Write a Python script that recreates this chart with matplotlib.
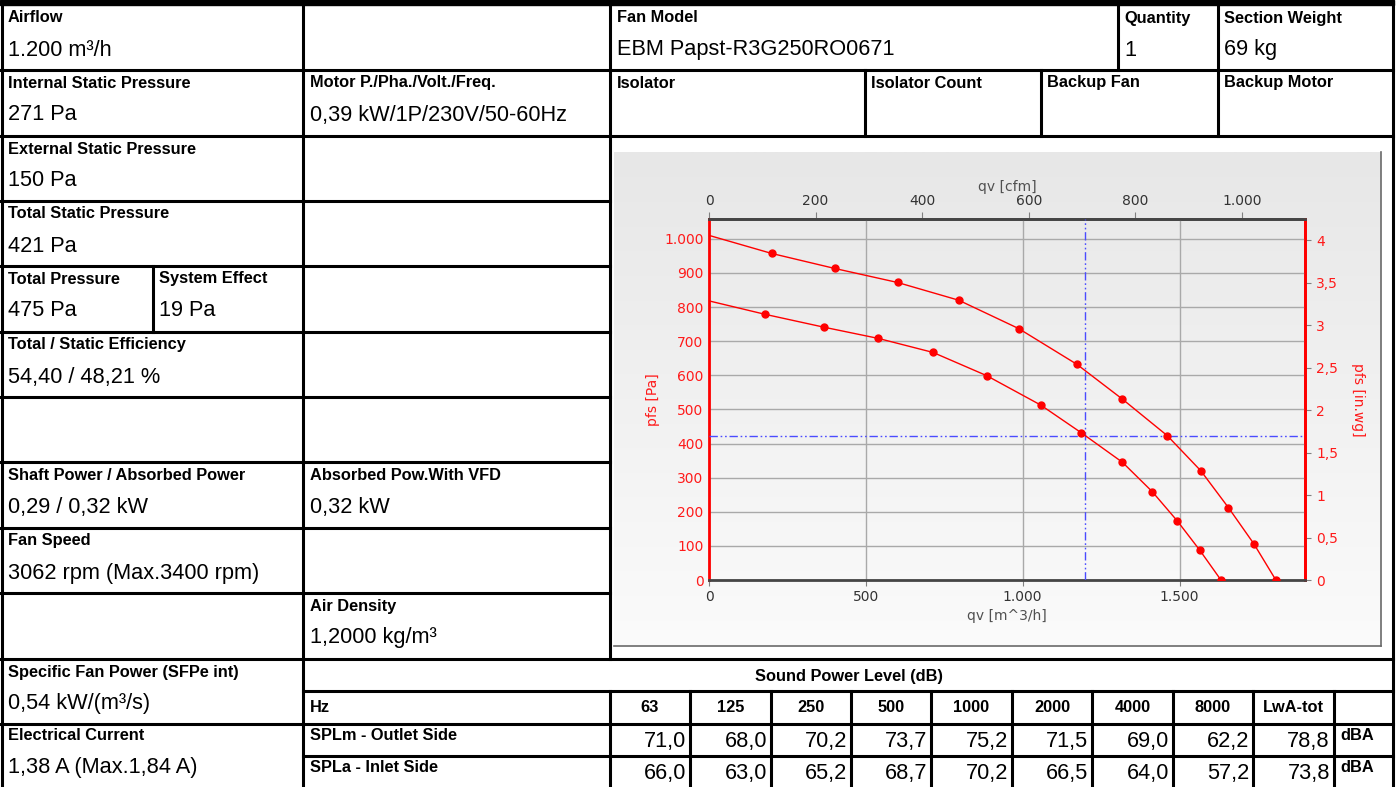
import matplotlib
matplotlib.use("Agg")
import matplotlib.pyplot as plt
import numpy as np
from matplotlib.colors import LinearSegmentedColormap
from matplotlib.ticker import FuncFormatter, FixedLocator

# ---------------- data ----------------
# fan curves (qv in m3/h, pfs in Pa)
q_max = [0, 200, 401, 601, 796, 987, 1173, 1318, 1461, 1568, 1656, 1737, 1807]
p_max = [1010, 957, 913, 872, 820, 737, 632, 530, 423, 320, 212, 106, 0]
q_op = [0, 177, 366, 540, 714, 885, 1057, 1186, 1318, 1413, 1493, 1564, 1632]
p_op = [818, 779, 741, 708, 667, 599, 513, 432, 345, 259, 173, 88, 0]
duty_q = 1200
duty_p = 421

x_ticks = [0, 500, 1000, 1500]
y_ticks = list(range(0, 1001, 100))
cfm_ticks = [0, 200, 400, 600, 800, 1000]
inwg_ticks = [0, 0.5, 1, 1.5, 2, 2.5, 3, 3.5, 4]

freqs = ['63', '125', '250', '500', '1000', '2000', '4000', '8000', 'LwA-tot']
splm = [71.0, 68.0, 70.2, 73.7, 75.2, 71.5, 69.0, 62.2, 78.8]
spla = [66.0, 63.0, 65.2, 68.7, 70.2, 66.5, 64.0, 57.2, 73.8]

# table cells: (x, row_top_y, label, value)
cells = [
    (8, 5, "Airflow", "1.200 m³/h"),
    (617, 5, "Fan Model", "EBM Papst-R3G250RO0671"),
    (1124, 5, "Quantity", "1"),
    (1224, 5, "Section Weight", "69 kg"),
    (8, 70, "Internal Static Pressure", "271 Pa"),
    (310, 70, "Motor P./Pha./Volt./Freq.", "0,39 kW/1P/230V/50-60Hz"),
    (617, 70, "Isolator", ""),
    (871, 70, "Isolator Count", ""),
    (1047, 70, "Backup Fan", ""),
    (1224, 70, "Backup Motor", ""),
    (8, 136, "External Static Pressure", "150 Pa"),
    (8, 201, "Total Static Pressure", "421 Pa"),
    (8, 266, "Total Pressure", "475 Pa"),
    (159, 266, "System Effect", "19 Pa"),
    (8, 332, "Total / Static Efficiency", "54,40 / 48,21 %"),
    (8, 462, "Shaft Power / Absorbed Power", "0,29 / 0,32 kW"),
    (310, 462, "Absorbed Pow.With VFD", "0,32 kW"),
    (8, 528, "Fan Speed", "3062 rpm (Max.3400 rpm)"),
    (310, 593, "Air Density", "1,2000 kg/m³"),
    (8, 659, "Specific Fan Power (SFPe int)", "0,54 kW/(m³/s)"),
    (8, 722, "Electrical Current", "1,38 A (Max.1,84 A)"),
]

W, H = 1398, 787
fig = plt.figure(figsize=(W / 100, H / 100), dpi=100)
fig.patch.set_facecolor('white')

ax0 = fig.add_axes([0, 0, 1, 1])
ax0.set_xlim(0, W)
ax0.set_ylim(H, 0)
ax0.axis('off')

# chart panel gradient
cmap = LinearSegmentedColormap.from_list('g', ['#e7e7e7', '#fbfbfb'])
grad = np.linspace(0, 1, 256).reshape(-1, 1)
ax0.imshow(grad, cmap=cmap, extent=[614, 1381, 646, 152], aspect='auto', zorder=0)
ax0.plot([1381, 1381], [152, 646], color='#6a6a6a', lw=1.2, zorder=1)
ax0.plot([614, 1381], [646, 646], color='#6a6a6a', lw=1.2, zorder=1)
ax0.set_xlim(0, W)
ax0.set_ylim(H, 0)

LW = 2.2
def hline(y, x0, x1):
    ax0.plot([x0, x1], [y, y], color='black', lw=LW, solid_capstyle='projecting', zorder=3)
def vline(x, y0, y1):
    ax0.plot([x, x], [y0, y1], color='black', lw=LW, solid_capstyle='projecting', zorder=3)

ax0.add_patch(plt.Rectangle((0, 0), 1394, 5, color='black', zorder=3))
for y, a, b in [(70, 0, 1393), (136, 0, 1393), (201, 0, 610), (266, 0, 610), (332, 0, 610),
                (397, 0, 610), (462, 0, 610), (528, 0, 610), (593, 0, 610), (659, 0, 1393),
                (691, 303, 1393), (724, 0, 1393), (756, 303, 1393)]:
    hline(y, a, b)
for x, a, b in [(1.5, 0, 787), (303, 5, 787), (153, 266, 332), (610, 5, 659), (610, 691, 787),
                (1118, 5, 70), (1218, 5, 136), (865, 70, 136), (1041, 70, 136), (1393, 5, 787)]:
    vline(x, a, b)
col_edges = [610, 690, 771, 851, 931, 1012, 1092, 1173, 1253, 1334]
for x in col_edges[1:]:
    vline(x, 691, 787)

LFONT = dict(family='Liberation Sans', fontsize=11.8, fontweight='bold', color='black')
VFONT = dict(family='Liberation Sans', fontsize=15.7, color='black')

for x, y0, lab, val in cells:
    ax0.text(x, y0 + 13, lab, va='center', ha='left', **LFONT)
    if val:
        ax0.text(x, y0 + 45, val, va='center', ha='left', **VFONT)

# sound table
ax0.text(849, 676, "Sound Power Level (dB)", ha='center', va='center', **LFONT)
ax0.text(310, 707, "Hz", ha='left', va='center', **LFONT)
ax0.text(310, 735, "SPLm - Outlet Side", ha='left', va='center', **LFONT)
ax0.text(310, 768, "SPLa - Inlet Side", ha='left', va='center', **LFONT)
for i, f in enumerate(freqs):
    xc = (col_edges[i] + col_edges[i + 1]) / 2
    ax0.text(xc, 708, f, ha='center', va='center', **LFONT)
    ax0.text(col_edges[i + 1] - 4, 741, f"{splm[i]:.1f}".replace('.', ','), ha='right', va='center', **VFONT)
    ax0.text(col_edges[i + 1] - 4, 773, f"{spla[i]:.1f}".replace('.', ','), ha='right', va='center', **VFONT)
ax0.text(1340, 735, "dBA", ha='left', va='center', **LFONT)
ax0.text(1340, 768, "dBA", ha='left', va='center', **LFONT)

# ---------------- chart ----------------
RED = '#ff1a1a'
ax = fig.add_axes([709 / W, 1 - 580 / H, 596 / W, 361 / H])
ax.set_facecolor('none')
ax.set_xlim(0, 1900)
ax.set_ylim(0, 1058)

def fmt_num(v, pos=None):
    if abs(v - round(v)) < 1e-9:
        s = f"{int(round(v)):,}".replace(',', '.')
    else:
        s = f"{v:g}".replace('.', ',')
    return s

ax.xaxis.set_major_locator(FixedLocator(x_ticks))
ax.yaxis.set_major_locator(FixedLocator(y_ticks))
ax.xaxis.set_major_formatter(FuncFormatter(fmt_num))
ax.yaxis.set_major_formatter(FuncFormatter(fmt_num))
ax.grid(True, color='#a9a9a9', lw=1.0, zorder=1)
ax.set_axisbelow(True)
ax.tick_params(axis='x', direction='out', length=4, color='#808080', labelsize=10,
               labelcolor='#333333', pad=3)
ax.tick_params(axis='y', direction='out', length=0, labelsize=10, labelcolor=RED, pad=4)

for s in ['left', 'right']:
    ax.spines[s].set_color('#ff0000')
    ax.spines[s].set_linewidth(2.0)
for s in ['top', 'bottom']:
    ax.spines[s].set_color('#454545')
    ax.spines[s].set_linewidth(2.0)

ax.plot(q_max, p_max, color='#ff0000', lw=1.0, marker='o', ms=5, markevery=list(range(1, len(q_max))), zorder=4)
ax.plot(q_op, p_op, color='#ff0000', lw=1.0, marker='o', ms=5, markevery=list(range(1, len(q_op))), zorder=4)

blue_ls = (0, (6, 2, 1.2, 2, 1.2, 2))
ax.axvline(duty_q, color='#4b4bff', lw=1.0, ls=blue_ls, zorder=3)
ax.axhline(duty_p, color='#4b4bff', lw=1.0, ls=blue_ls, zorder=3)

ax.set_xlabel("qv [m^3/h]", fontsize=10, color='#505050', labelpad=4)
ax.set_ylabel("pfs [Pa]", fontsize=10, color=RED, labelpad=3)

# top axis cfm
secx = ax.secondary_xaxis('top', functions=(lambda q: np.asarray(q) / 1.699, lambda c: np.asarray(c) * 1.699))
secx.xaxis.set_major_locator(FixedLocator(cfm_ticks))
secx.xaxis.set_major_formatter(FuncFormatter(fmt_num))
secx.tick_params(direction='out', length=5, color='#808080', labelsize=10, labelcolor='#333333', pad=3)
secx.spines['top'].set_color('#454545')
secx.spines['top'].set_linewidth(2.0)
secx.set_xlabel("qv [cfm]", fontsize=10, color='#505050', labelpad=2)

# right axis in.wg
secy = ax.secondary_yaxis('right', functions=(lambda p: np.asarray(p) / 249.089, lambda i: np.asarray(i) * 249.089))
secy.yaxis.set_major_locator(FixedLocator(inwg_ticks))
secy.yaxis.set_major_formatter(FuncFormatter(fmt_num))
secy.tick_params(direction='out', length=4, color='#808080', labelsize=10, labelcolor=RED, pad=4)
secy.spines['right'].set_color('#ff0000')
secy.spines['right'].set_linewidth(2.0)
secy.set_ylabel("pfs [in.wg]", fontsize=10, color=RED, rotation=270, labelpad=19)

fig.savefig("out.png", dpi=100)
